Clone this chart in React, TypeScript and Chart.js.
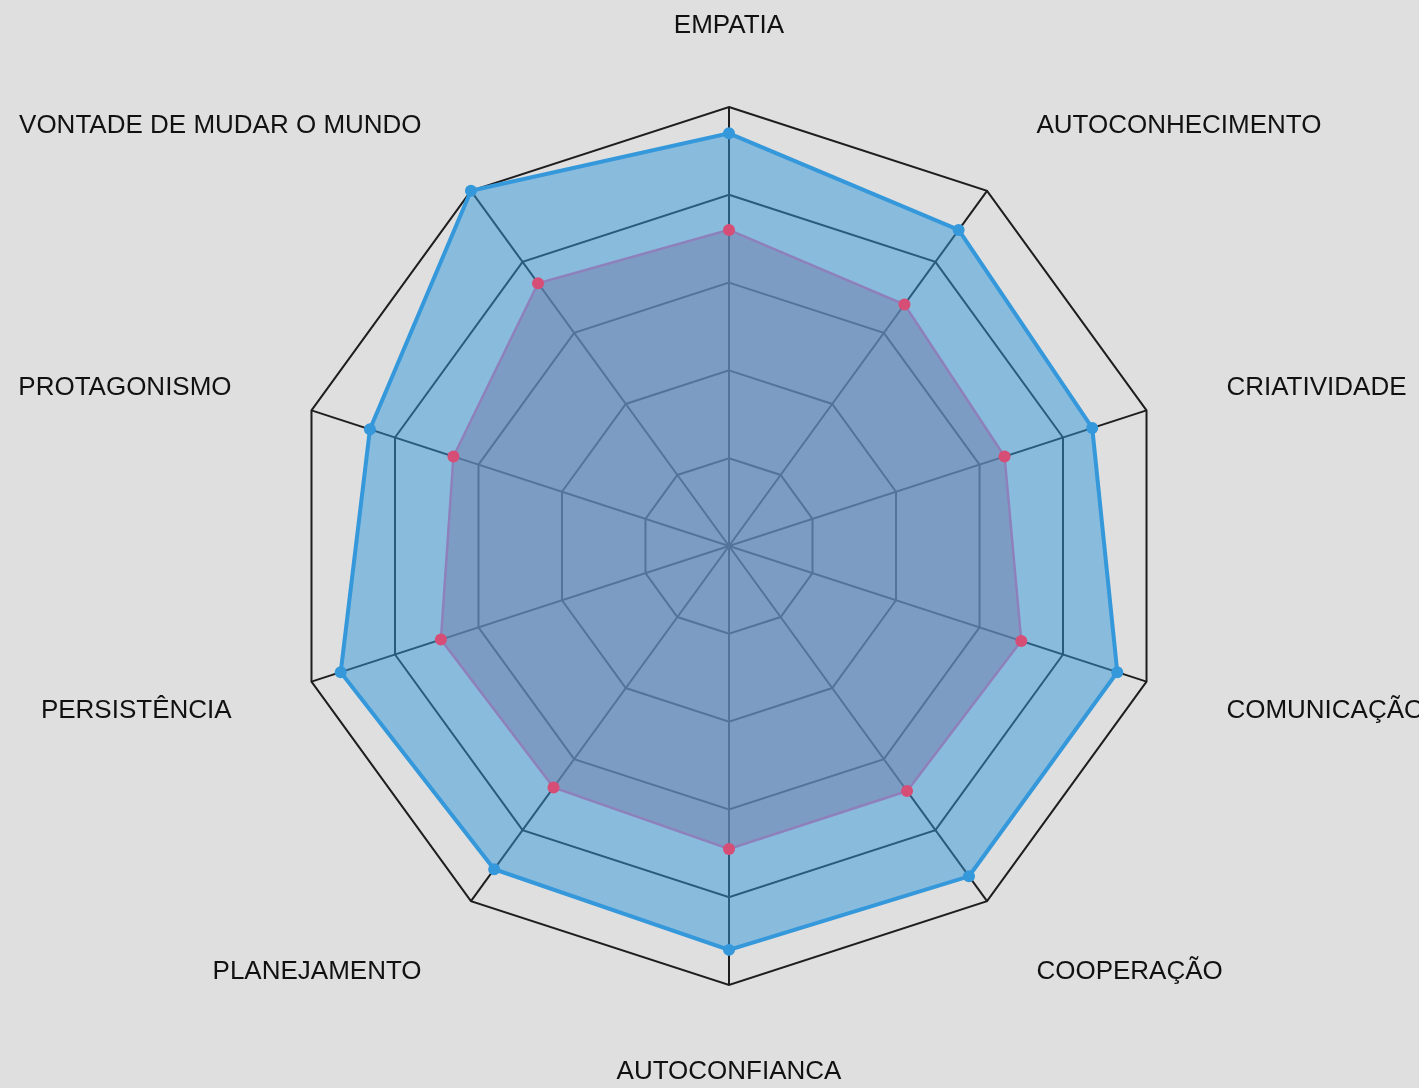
import React, { useEffect, useRef } from "react";
import { Chart, registerables } from "chart.js";

Chart.register(...registerables);

const categories = [
  "EMPATIA",
  "AUTOCONHECIMENTO",
  "CRIATIVIDADE",
  "COMUNICAÇÃO",
  "COOPERAÇÃO",
  "AUTOCONFIANCA",
  "PLANEJAMENTO",
  "PERSISTÊNCIA",
  "PROTAGONISMO",
  "VONTADE DE MUDAR O MUNDO",
];

const outerSeries = [94, 89, 87, 93, 93, 92, 91, 93, 86, 100];
const innerSeries = [72, 68, 66, 70, 69, 69, 68, 69, 66, 74];

const scaleMin = 0;
const scaleMax = 100;
const scaleStep = 20;

const LABEL_GAP = 84;
const LABEL_SHIFT_Y = 3;

const outerLabelsPlugin = {
  id: "outerLabels",
  afterDraw(chart: any) {
    const scale = chart.scales.r;
    const ctx = chart.ctx;
    const labels: string[] = chart.data.labels;
    const n = labels.length;
    ctx.save();
    ctx.font = '26px "Liberation Sans", Arial, sans-serif';
    ctx.fillStyle = "#111111";
    ctx.textBaseline = "middle";
    for (let i = 0; i < n; i++) {
      const p = scale.getPointPosition(i, scale.drawingArea + LABEL_GAP);
      const angle = (360 / n) * i;
      ctx.textAlign =
        angle === 0 || angle === 180 ? "center" : angle < 180 ? "left" : "right";
      ctx.fillText(labels[i], p.x, p.y + LABEL_SHIFT_Y);
    }
    ctx.restore();
  },
};

export default function App() {
  const ref = useRef<HTMLCanvasElement | null>(null);

  useEffect(() => {
    if (!ref.current) return;
    const chart = new Chart(ref.current, {
      type: "radar",
      data: {
        labels: categories,
        datasets: [
          {
            label: "inner",
            data: innerSeries,
            backgroundColor: "rgba(116,134,178,0.57)",
            borderColor: "rgb(142,128,186)",
            borderWidth: 2.5,
            pointRadius: 6,
            pointBorderWidth: 0,
            pointBackgroundColor: "rgb(214,78,118)",
            fill: true,
          },
          {
            label: "outer",
            data: outerSeries,
            backgroundColor: "rgba(52,152,219,0.5)",
            borderColor: "rgb(52,152,219)",
            borderWidth: 4,
            pointRadius: 6,
            pointBorderWidth: 0,
            pointBackgroundColor: "rgb(52,152,219)",
            fill: true,
          },
        ],
      },
      options: {
        animation: false,
        responsive: false,
        layout: { padding: { left: 229, right: 190, top: 107, bottom: 103 } },
        plugins: {
          legend: { display: false },
          tooltip: { enabled: false },
        },
        elements: { line: { tension: 0 } },
        scales: {
          r: {
            min: scaleMin,
            max: scaleMax,
            ticks: { display: false, stepSize: scaleStep },
            pointLabels: { display: false },
            grid: { color: "#1e1e1e", lineWidth: 2, circular: false },
            angleLines: { display: true, color: "#1e1e1e", lineWidth: 2 },
          },
        },
      },
      plugins: [outerLabelsPlugin],
    });
    return () => chart.destroy();
  }, []);

  return (
    <div
      style={{
        position: "fixed",
        left: 0,
        top: 0,
        width: 1419,
        height: 1088,
        background: "#dfdfdf",
        overflow: "hidden",
      }}
    >
      <canvas
        ref={ref}
        width={1419}
        height={1088}
        style={{ display: "block", width: 1419, height: 1088 }}
      />
    </div>
  );
}
